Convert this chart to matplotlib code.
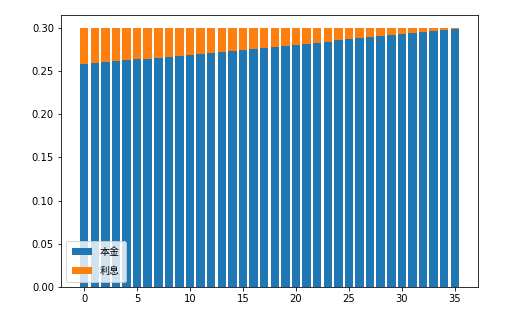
import matplotlib
matplotlib.use("Agg")
import matplotlib.pyplot as plt

plt.rcParams['font.family'] = ['DejaVu Sans', 'Noto Sans CJK SC']

periods = list(range(36))
principal = [0.2580, 0.2591, 0.2602, 0.2613, 0.2624, 0.2635, 0.2646, 0.2657, 0.2668,
             0.2680, 0.2691, 0.2702, 0.2714, 0.2725, 0.2737, 0.2748, 0.2760, 0.2772,
             0.2783, 0.2795, 0.2807, 0.2819, 0.2831, 0.2843, 0.2855, 0.2867, 0.2879,
             0.2891, 0.2904, 0.2916, 0.2928, 0.2941, 0.2953, 0.2966, 0.2978, 0.2987]
interest = [0.0420, 0.0409, 0.0398, 0.0387, 0.0376, 0.0365, 0.0354, 0.0343, 0.0332,
            0.0320, 0.0309, 0.0298, 0.0286, 0.0275, 0.0263, 0.0252, 0.0240, 0.0228,
            0.0217, 0.0205, 0.0193, 0.0181, 0.0169, 0.0157, 0.0145, 0.0133, 0.0121,
            0.0109, 0.0096, 0.0084, 0.0072, 0.0059, 0.0047, 0.0034, 0.0022, 0.0013]
labels = ['本金', '利息']

fig = plt.figure(figsize=(505/72, 323/72), dpi=72)
ax = fig.add_axes([61/505, 1 - 287/323, (478-61)/505, (287-15)/323])
ax.bar(periods, principal, color='#1f77b4', label=labels[0])
ax.bar(periods, interest, bottom=principal, color='#ff7f0e', label=labels[1])
ax.legend(loc='lower left', labelspacing=0.9, borderpad=0.6)
fig.savefig('out.png', dpi=72)
